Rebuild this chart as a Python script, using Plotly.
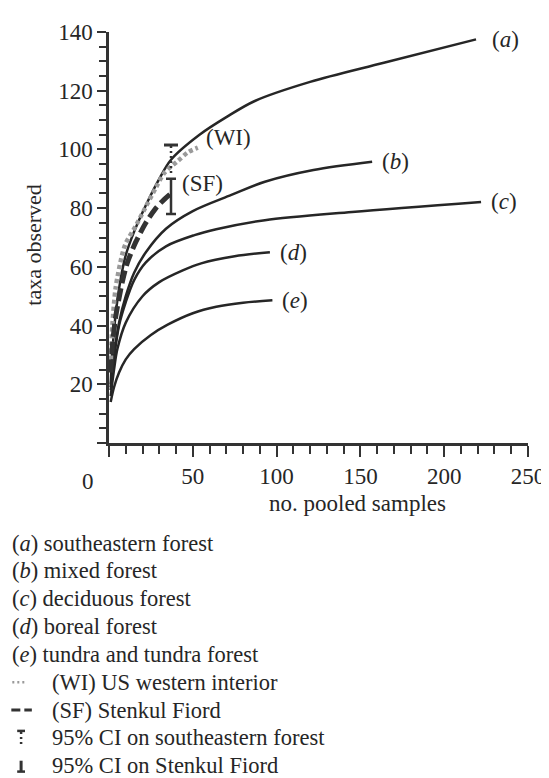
import plotly.graph_objects as go

# ---------------- data ----------------
a_x = [1, 2, 4, 7, 10, 15, 22, 30, 37, 54, 70, 87, 120, 164, 219]
a_y = [20, 31, 44, 56, 64, 72, 81, 90, 96.5, 105, 111, 116.5, 123, 129.5, 137.5]

b_x = [1, 3, 6, 10, 15, 22, 34, 50, 73, 93, 122, 157]
b_y = [19, 30, 41, 50, 58, 65, 73, 79, 84.5, 89, 93, 95.8]

c_x = [1, 3, 6, 10, 15, 22, 34, 51, 64, 93, 145, 222]
c_y = [18, 29, 40, 48, 55.5, 61.5, 67, 70.8, 72.8, 75.9, 78.7, 82.1]

d_x = [1, 3, 5, 10, 20, 30, 44, 55, 75, 96]
d_y = [16, 25, 32, 41, 50, 54.8, 58.8, 61.2, 63.6, 65]

e_x = [1, 3, 6, 10, 15, 25, 35, 50, 64, 80, 97.5]
e_y = [14, 19, 24, 28.5, 32, 36.8, 40.3, 44.2, 46.4, 47.8, 48.6]

wi_x = [1, 2, 4, 8, 10, 16, 22, 28, 33, 41, 47, 53]
wi_y = [26, 40, 53, 64.5, 68, 74, 80.5, 87, 92, 96, 99, 100.6]

sf_x = [1, 2, 4, 8, 11, 16, 22, 28, 33, 37]
sf_y = [24, 33, 43, 55, 61.5, 68.5, 75, 80, 83, 85]

# 95% confidence intervals at the pooled-sample count of the fossil sites
ci_se_x, ci_se_lo, ci_se_hi = 37, 92, 101.5
ci_sf_x, ci_sf_mid, ci_sf_lo, ci_sf_hi = 37, 85, 78, 90

x_ticks = [0, 50, 100, 150, 200, 250]
y_ticks = [0, 20, 40, 60, 80, 100, 120, 140]

curve_labels = ["(<i>a</i>)", "(<i>b</i>)", "(<i>c</i>)", "(<i>d</i>)", "(<i>e</i>)", "(WI)", "(SF)"]
legend_labels = [
    "(<i>a</i>) southeastern forest",
    "(<i>b</i>) mixed forest",
    "(<i>c</i>) deciduous forest",
    "(<i>d</i>) boreal forest",
    "(<i>e</i>) tundra and tundra forest",
    "(WI) US western interior",
    "(SF) Stenkul Fiord",
    "95% CI on southeastern forest",
    "95% CI on Stenkul Fiord",
]

# ---------------- style ----------------
W, H = 549, 778
L, R, T, B = 101, 19, 20, 343
PW, PH = W - L - R, H - T - B
FONT = "Liberation Serif, Times New Roman, serif"
INK = "#262626"
GREY = "#9a9a9a"


def px(xp):
    return (xp - L) / PW


def py(yp):
    return (H - B - yp) / PH


fig = go.Figure()

for xs, ys in [(a_x, a_y), (b_x, b_y), (c_x, c_y), (d_x, d_y), (e_x, e_y)]:
    fig.add_trace(go.Scatter(x=xs, y=ys, mode="lines",
                             line=dict(color=INK, width=2.5, shape="spline", smoothing=0.9),
                             showlegend=False, hoverinfo="skip"))

fig.add_trace(go.Scatter(x=wi_x, y=wi_y, mode="lines",
                         line=dict(color=GREY, width=4.5, dash="4px,3px", shape="spline", smoothing=0.8),
                         showlegend=False))
fig.add_trace(go.Scatter(x=sf_x, y=sf_y, mode="lines",
                         line=dict(color="#333333", width=5, dash="13px,5px", shape="spline", smoothing=0.8),
                         showlegend=False))

# CI on southeastern forest: dotted stem with top cap
fig.add_trace(go.Scatter(x=[ci_se_x, ci_se_x], y=[ci_se_lo, ci_se_hi], mode="lines",
                         line=dict(color="#333333", width=2.5, dash="2px,3px"), showlegend=False))
fig.add_trace(go.Scatter(x=[ci_se_x], y=[ci_se_hi], mode="markers",
                         marker=dict(symbol="line-ew", size=10, line=dict(color="#333333", width=3)),
                         showlegend=False))
# CI on Stenkul Fiord: solid with caps
fig.add_trace(go.Scatter(x=[ci_sf_x], y=[ci_sf_mid], mode="markers",
                         marker=dict(size=1, color="#333333"),
                         error_y=dict(type="data", symmetric=False,
                                      array=[ci_sf_hi - ci_sf_mid], arrayminus=[ci_sf_mid - ci_sf_lo],
                                      color="#333333", thickness=2.5, width=5),
                         showlegend=False))

ann = []
# curve end labels
ends = [(a_x, a_y), (b_x, b_y), (c_x, c_y), (d_x, d_y), (e_x, e_y), (wi_x, wi_y), (sf_x, sf_y)]
shifts = [(14, 0), (8, 0), (8, 0), (8, 0), (8, 0), (6, 10), (9, 10)]
for (xs, ys), lab, (dx, dy) in zip(ends, curve_labels, shifts):
    ann.append(dict(x=xs[-1], y=ys[-1], xref="x", yref="y", text=lab, showarrow=False,
                    xanchor="left", yanchor="middle", xshift=dx, yshift=dy,
                    font=dict(family=FONT, size=23, color=INK)))

# "0" label on x axis, set left of the y axis
ann.append(dict(x=0, y=0, xref="x", yref="y", text="0", showarrow=False,
                xanchor="center", yanchor="top", xshift=-21, yshift=-24,
                font=dict(family=FONT, size=23, color=INK)))

# axis titles
ann.append(dict(x=px(355), y=py(496), xref="paper", yref="paper", text="no. pooled samples",
                showarrow=False, xanchor="center", yanchor="middle",
                font=dict(family=FONT, size=23, color=INK)))
ann.append(dict(x=px(24), y=py(235), xref="paper", yref="paper", text="taxa observed",
                showarrow=False, textangle=-90, xanchor="center", yanchor="middle",
                font=dict(family=FONT, size=22, color=INK)))

# legend rows
row0, step = 536, 28.1
for i, lab in enumerate(legend_labels):
    xl = 0 if i < 5 else 41
    ann.append(dict(x=px(xl), y=py(row0 + i * step), xref="paper", yref="paper", text=lab,
                    showarrow=False, xanchor="left", yanchor="middle",
                    font=dict(family=FONT, size=22.5, color=INK)))

shapes = []
yw = py(row0 + 5 * step)
shapes.append(dict(type="line", xref="paper", yref="paper", x0=px(2), x1=px(17), y0=yw, y1=yw,
                   line=dict(color=GREY, width=2.5, dash="2px,3px")))
ys_ = py(row0 + 6 * step)
shapes.append(dict(type="line", xref="paper", yref="paper", x0=px(1), x1=px(22), y0=ys_, y1=ys_,
                   line=dict(color="#333333", width=3, dash="9px,4px")))
yc = row0 + 7 * step
shapes.append(dict(type="line", xref="paper", yref="paper", x0=px(7), x1=px(15), y0=py(yc - 7), y1=py(yc - 7),
                   line=dict(color="#333333", width=2.5)))
shapes.append(dict(type="line", xref="paper", yref="paper", x0=px(11), x1=px(11), y0=py(yc - 6), y1=py(yc + 7),
                   line=dict(color="#333333", width=2.5, dash="2px,3px")))
yd = row0 + 8 * step
shapes.append(dict(type="line", xref="paper", yref="paper", x0=px(7), x1=px(15), y0=py(yd + 6), y1=py(yd + 6),
                   line=dict(color="#333333", width=2.5)))
shapes.append(dict(type="line", xref="paper", yref="paper", x0=px(11), x1=px(11), y0=py(yd - 5), y1=py(yd + 6),
                   line=dict(color="#333333", width=3)))

axis_common = dict(showgrid=False, zeroline=False, showline=True, linecolor="#333333", linewidth=2.5,
                   ticks="outside", tickcolor="#333333", tickwidth=2,
                   tickfont=dict(family=FONT, size=23, color=INK))

fig.update_layout(
    width=W, height=H,
    margin=dict(l=L, r=R, t=T, b=B, pad=0),
    paper_bgcolor="white", plot_bgcolor="white",
    showlegend=False,
    xaxis=dict(range=[0, 250], tickvals=x_ticks, ticktext=[""] + [str(v) for v in x_ticks[1:]],
               ticklen=11, minor=dict(dtick=10, tick0=0, ticks="outside", ticklen=8, tickwidth=2,
                                      tickcolor="#333333"),
               **axis_common),
    yaxis=dict(range=[0, 140], tickvals=y_ticks, ticktext=[""] + [str(v) for v in y_ticks[1:]],
               ticklen=9, minor=dict(dtick=5, tick0=0, ticks="outside", ticklen=7, tickwidth=2,
                                     tickcolor="#333333"),
               **axis_common),
    annotations=ann,
    shapes=shapes,
)

fig.write_html("out.html")
